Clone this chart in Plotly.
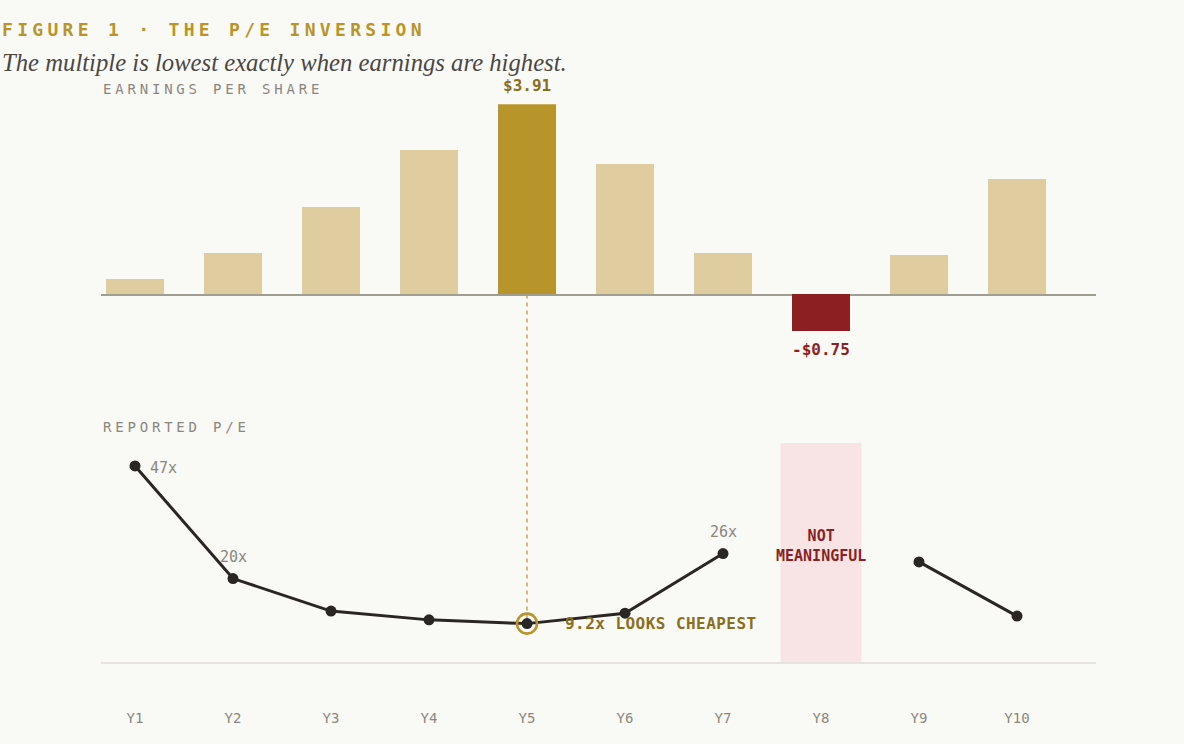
import plotly.graph_objects as go

# ---- data ----
years = ["Y1", "Y2", "Y3", "Y4", "Y5", "Y6", "Y7", "Y8", "Y9", "Y10"]
eps = [0.31, 0.84, 1.80, 2.97, 3.91, 2.68, 0.84, -0.75, 0.80, 2.37]
pe = [47, 20, 12.2, 10.1, 9.2, 11.7, 26, None, 24, 11]
pe_labels = {0: "47x", 1: "20x", 6: "26x"}
highlight_idx = 4
negative_idx = 7

# ---- style ----
W, H = 1184, 744
BG = "#f9f9f5"
GOLD = "#b8952b"
GOLD_DARK = "#8c6f1c"
LIGHT = "#dfcda0"
RED = "#8b1f21"
PINK = "#f8e4e4"
INK = "#2a2623"
GRAY = "#8a8780"
MONO = "DejaVu Sans Mono"

xi = list(range(len(years)))
x_range = [-0.347, 9.806]
x_dom = [101 / W, 1096 / W]

def py(p):
    return 1 - p / H

y1_dom = [py(340), py(104.3)]
y1_range = [-(340 - 294.5) / 48.65, 3.91]
y2_dom = [py(662), py(443)]
y2_range = [0, 52.5]

def to_paper(v, dom, rng):
    return dom[0] + (v - rng[0]) / (rng[1] - rng[0]) * (dom[1] - dom[0])

bar_colors = []
for i, v in enumerate(eps):
    if i == highlight_idx:
        bar_colors.append(GOLD)
    elif v < 0:
        bar_colors.append(RED)
    else:
        bar_colors.append(LIGHT)

fig = go.Figure()
fig.add_trace(go.Bar(x=xi, y=eps, marker=dict(color=bar_colors, line=dict(width=0)),
                     width=0.59, xaxis="x", yaxis="y", hoverinfo="skip"))
fig.add_trace(go.Scatter(x=xi, y=pe, mode="lines+markers", connectgaps=False,
                         line=dict(color=INK, width=3),
                         marker=dict(color=INK, size=11),
                         xaxis="x2", yaxis="y2", hoverinfo="skip"))
fig.add_trace(go.Scatter(x=[xi[highlight_idx]], y=[pe[highlight_idx]], mode="markers",
                         marker=dict(symbol="circle-open", size=20, color=GOLD,
                                     line=dict(width=2.6, color=GOLD)),
                         xaxis="x2", yaxis="y2", hoverinfo="skip"))

shapes = []
# pink "not meaningful" band
shapes.append(dict(type="rect", xref="x2", yref="y2 domain", x0=negative_idx - 0.413,
                   x1=negative_idx + 0.413, y0=0, y1=1, fillcolor=PINK,
                   line=dict(width=0), layer="below"))
# dashed connector from EPS bar to P/E point
shapes.append(dict(type="line", xref="x", yref="paper",
                   x0=xi[highlight_idx], x1=xi[highlight_idx],
                   y0=to_paper(0, y1_dom, y1_range),
                   y1=to_paper(pe[highlight_idx], y2_dom, y2_range),
                   line=dict(color="#c9a84e", width=1.5, dash="4px,4px"), layer="below"))

def ls(text, px):
    return f'<span style="letter-spacing:{px}px">{text}</span>'

ann = []
ann.append(dict(text="<b>" + ls("FIGURE 1 · THE P/E INVERSION", 4.3) + "</b>", xref="paper", yref="paper",
                x=0, y=py(30), xanchor="left", yanchor="middle", showarrow=False,
                font=dict(family=MONO, size=18, color=GOLD)))
ann.append(dict(text="<i>The multiple is lowest exactly when earnings are highest.</i>",
                xref="paper", yref="paper", x=0, y=py(62), xanchor="left", yanchor="middle",
                showarrow=False, font=dict(family="Liberation Serif", size=24.7, color="#4a4743")))
ann.append(dict(text=ls("EARNINGS PER SHARE", 3.8), xref="paper", yref="paper", x=101 / W, y=py(89),
                xanchor="left", yanchor="middle", showarrow=False,
                font=dict(family=MONO, size=14, color=GRAY)))
ann.append(dict(text=ls("REPORTED P/E", 3.8), xref="paper", yref="paper", x=101 / W, y=py(427),
                xanchor="left", yanchor="middle", showarrow=False,
                font=dict(family=MONO, size=14, color=GRAY)))
ann.append(dict(text=f"<b>${eps[highlight_idx]:.2f}</b>", xref="x", yref="y",
                x=xi[highlight_idx], y=eps[highlight_idx], yshift=19, xanchor="center",
                yanchor="middle", showarrow=False, font=dict(family=MONO, size=16, color=GOLD_DARK)))
ann.append(dict(text=f"<b>-${abs(eps[negative_idx]):.2f}</b>", xref="x", yref="y",
                x=xi[negative_idx], y=eps[negative_idx], yshift=-19, xanchor="center",
                yanchor="middle", showarrow=False, font=dict(family=MONO, size=16, color=RED)))
for i, t in pe_labels.items():
    if i == 0:
        ann.append(dict(text=t, xref="x2", yref="y2", x=xi[i], y=pe[i], xshift=13, yshift=-2,
                        xanchor="left", yanchor="middle", showarrow=False,
                        font=dict(family=MONO, size=15, color=GRAY)))
    else:
        ann.append(dict(text=t, xref="x2", yref="y2", x=xi[i], y=pe[i], yshift=22,
                        xanchor="center", yanchor="middle", showarrow=False,
                        font=dict(family=MONO, size=15, color=GRAY)))
ann.append(dict(text="<b>" + ls(f"{pe[highlight_idx]}x LOOKS CHEAPEST", 0.45) + "</b>",
                xref="x2", yref="y2",
                x=xi[highlight_idx], y=pe[highlight_idx], xshift=36, xanchor="left",
                yanchor="middle", showarrow=False, font=dict(family=MONO, size=16, color=GOLD_DARK)))
ann.append(dict(text="<b>NOT<br>MEANINGFUL</b>", xref="x2", yref="y2", x=xi[negative_idx],
                y=27.8, xanchor="center", yanchor="middle", showarrow=False,
                font=dict(family=MONO, size=15, color=RED)))

fig.update_layout(
    width=W, height=H, paper_bgcolor=BG, plot_bgcolor=BG,
    margin=dict(l=0, r=0, t=0, b=0), showlegend=False, bargap=0,
    shapes=shapes, annotations=ann,
    xaxis=dict(domain=x_dom, range=x_range, anchor="y", showticklabels=False,
               showgrid=False, zeroline=False, showline=False, fixedrange=True),
    yaxis=dict(domain=y1_dom, range=y1_range, anchor="x", showticklabels=False,
               showgrid=False, zeroline=True, zerolinecolor="#a09e92", zerolinewidth=2),
    xaxis2=dict(domain=x_dom, range=x_range, anchor="y2", tickmode="array", tickvals=xi,
                ticktext=years, ticks="", showgrid=False, zeroline=False, showline=True,
                linecolor="#e6e3dc", linewidth=2, ticklabelstandoff=42,
                tickfont=dict(family=MONO, size=14, color=GRAY)),
    yaxis2=dict(domain=y2_dom, range=y2_range, anchor="x2", showticklabels=False,
                showgrid=False, zeroline=False, showline=False),
)

fig.write_html("out.html", config={"displayModeBar": False},
               post_script="document.body.style.margin='0';document.body.style.background='%s';" % BG)
